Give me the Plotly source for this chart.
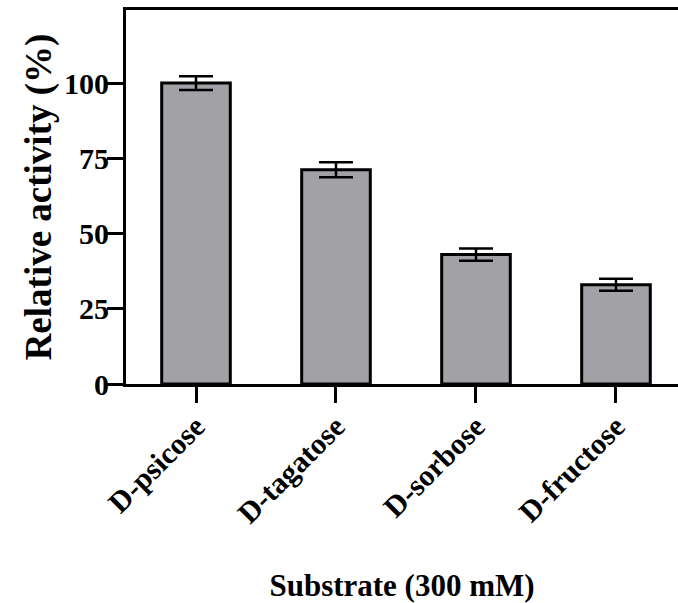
import plotly.graph_objects as go

categories = ["D-psicose", "D-tagatose", "D-sorbose", "D-fructose"]
activity = [100.0, 71.2, 43.0, 33.0]
errors = [2.3, 2.5, 2.0, 2.0]
y_ticks = [0, 25, 50, 75, 100]

fig = go.Figure()
fig.add_trace(go.Bar(
    x=list(range(len(categories))),
    y=activity,
    width=0.49,
    marker=dict(color="#A2A1A6", line=dict(color="black", width=3)),
    error_y=dict(type="data", array=errors, visible=True,
                 color="black", thickness=2.5, width=17),
))

fig.update_layout(
    width=678, height=603,
    margin=dict(l=126, r=0, t=10, b=219),
    paper_bgcolor="white", plot_bgcolor="white",
    showlegend=False,
    font=dict(family="Liberation Serif", color="black", weight="bold"),
    bargap=0.5,
)
fig.update_xaxes(
    range=[-0.5, 3.443],
    tickmode="array",
    tickvals=list(range(len(categories))),
    ticktext=categories,
    tickangle=-45,
    tickfont=dict(size=30, family="Liberation Serif", weight="bold"),
    ticks="outside", ticklen=16, tickwidth=3, tickcolor="black",
    ticklabelstandoff=-6,
    showline=True, linewidth=3, linecolor="black", mirror=True,
    showgrid=False, zeroline=False,
    title=dict(text="Substrate (300 mM)",
               font=dict(size=31, family="Liberation Serif", weight="bold"),
               standoff=50),
)
fig.update_yaxes(
    range=[0, 124.3],
    tickmode="array",
    tickvals=y_ticks,
    ticktext=[str(v) for v in y_ticks],
    tickfont=dict(size=30, family="Liberation Serif", weight="bold"),
    ticks="outside", ticklen=16, tickwidth=3, tickcolor="black",
    ticklabelstandoff=-8,
    showline=True, linewidth=3, linecolor="black",
    showgrid=False, zeroline=False,
    title=dict(text="Relative activity (%)",
               font=dict(size=37, family="Liberation Serif", weight="bold"),
               standoff=2),
)

fig.write_html("out.html")
